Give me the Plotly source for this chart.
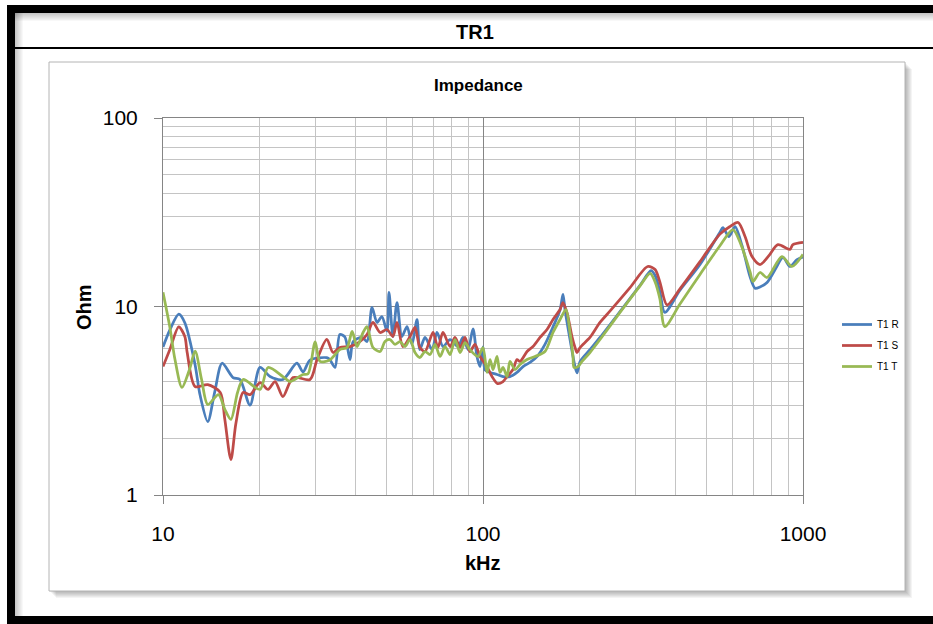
import plotly.graph_objects as go

# ---- measured impedance, phase R / S / T (frequency in kHz, impedance in Ohm) ----
freq_r = [10.0, 10.5, 11.2, 11.7, 12.6, 13.05, 13.8, 14.5, 15.3, 16.55, 17.4, 18.7, 20.1, 21.6, 23.7, 26.2,
          27.4, 28.8, 32.5, 33.2, 34.5, 35.7, 37.0, 38.4, 39.3, 41.9, 43.4, 45.0, 46.65, 48.3, 50.1, 50.85,
          52.3, 53.85, 55.8, 57.9, 60.0, 62.2, 63.5, 65.9, 69.3, 71.8, 75.0, 78.9, 83.5, 86.6, 89.8, 93.05,
          95.8, 97.9, 100, 101.45, 105.2, 110.6, 115.5, 121.4, 127.7, 133.4, 140.3, 147.5, 156.2, 165.5,
          174.1, 177.8, 180.4, 187.0, 193.9, 196.7, 201.1, 215.9, 232.1, 268, 310, 335, 345, 357, 370,
          412.6, 476.6, 550.4, 562, 587, 613, 645, 683, 708, 734, 772, 820, 866, 910, 958, 1000]
ohm_r = [6.1, 7.5, 9.1, 8.2, 4.9, 3.4, 2.45, 3.5, 5.0, 4.2, 4.1, 3.0, 4.75, 4.25, 4.1, 5.0,
         4.5, 5.2, 5.35, 5.23, 4.75, 7.1, 6.9, 5.23, 6.52, 6.85, 6.52, 9.9, 8.23, 8.85, 7.4, 11.9,
         6.93, 10.5, 6.93, 7.83, 6.29, 8.53, 5.91, 6.85, 5.91, 7.28, 6.13, 6.68, 6.13, 6.85, 5.91, 7.6,
         5.4, 4.8, 6.1, 4.6, 4.47, 4.36, 4.25, 4.25, 4.47, 4.8, 5.05, 5.43, 6.3, 7.8,
         9.6, 11.6, 9.6, 6.7, 4.8, 4.45, 5.1, 5.9, 6.85, 9.4, 13.0, 15.5, 14.6, 12.0, 9.3,
         12.2, 16.7, 24.8, 26.2, 23.5, 26.5, 21.0, 14.4, 12.5, 12.7, 13.4, 15.8, 18.2, 16.3, 17.7, 18.3]

freq_s = [10.0, 10.5, 11.2, 11.7, 11.9, 12.6, 13.8, 15.1, 15.6, 16.3, 16.9, 17.8, 18.7, 20.1, 21.3, 22.4,
          23.7, 25.5, 28.8, 30.3, 32.5, 34.0, 35.7, 38.4, 41.3, 43.4, 45.3, 47.7, 50.1, 52.3, 53.85, 56.2,
          59.15, 61.3, 63.5, 65.9, 69.8, 72.3, 75.0, 78.9, 81.75, 84.8, 87.85, 91.0, 94.4, 97.9, 102.9,
          106.7, 111.0, 115.5, 118.9, 124.1, 127.7, 130.5, 137.3, 143.3, 150.7, 158.5, 165.5, 174.1, 177.8,
          183.0, 189.7, 193.9, 196.7, 201.1, 215.9, 232.1, 250, 288, 327, 345, 357, 376, 412.6, 476.6,
          550, 590, 627, 659, 693, 734, 780, 835, 910, 930, 1000]
ohm_s = [4.8, 5.9, 7.8, 6.93, 5.7, 3.76, 3.85, 3.5, 2.52, 1.54, 2.4, 3.5, 3.41, 3.95, 3.63, 4.0,
         3.33, 4.2, 4.1, 5.23, 6.7, 5.7, 6.06, 6.13, 6.52, 7.1, 8.23, 7.28, 7.55, 6.93, 8.23, 6.13,
         6.93, 7.74, 6.06, 5.77, 7.28, 6.06, 7.28, 6.13, 6.85, 6.06, 6.85, 5.77, 6.29, 5.43, 4.8,
         4.25, 3.9, 4.0, 4.25, 4.63, 5.23, 5.11, 5.77, 6.13, 6.85, 7.55, 8.53, 9.64, 10.5,
         9.29, 6.93, 6.06, 5.7, 6.06, 6.85, 8.23, 9.5, 12.6, 16.3, 15.7, 13.5, 10.2, 12.4, 17.3,
         24.2, 26.5, 27.9, 23.5, 18.4, 16.7, 18.5, 21.3, 20.1, 21.3, 21.9]

freq_t = [10.0, 10.5, 10.9, 11.46, 12.1, 12.6, 13.2, 13.8, 14.9, 15.6, 16.3, 17.1, 17.8, 20.1, 21.3, 23.7,
          24.9, 27.4, 28.4, 29.9, 30.95, 33.2, 35.7, 37.6, 39.0, 40.4, 42.2, 43.4, 45.3, 47.7, 49.4, 51.2,
          53.1, 55.0, 57.05, 59.15, 61.3, 63.5, 65.9, 68.3, 70.8, 73.4, 76.1, 78.9, 81.75, 84.8, 87.85,
          91.0, 96.45, 100, 102.9, 105.2, 107.5, 110.6, 113.0, 115.5, 118.9, 121.4, 125.9, 130.5, 137.3,
          145.4, 156.2, 165.5, 174.1, 181.6, 187.0, 191.1, 192.5, 198.1, 203.9, 215.9, 232.1, 268, 310,
          333, 345, 357, 370, 412.6, 476.6, 550, 604, 640, 683, 698, 734, 772, 859, 924, 1000]
ohm_t = [11.9, 7.8, 5.23, 3.72, 4.63, 5.8, 4.1, 3.02, 3.41, 2.85, 2.52, 3.5, 4.1, 3.63, 4.75, 4.25,
         4.0, 4.36, 4.4, 6.5, 5.11, 5.2, 5.91, 6.06, 7.37, 6.13, 7.28, 7.83, 6.06, 5.77, 6.52, 6.68,
         6.29, 6.52, 6.13, 6.68, 5.70, 5.36, 5.77, 5.56, 6.29, 5.43, 6.13, 5.56, 6.68, 5.70, 6.44,
         5.91, 5.43, 6.06, 4.47, 5.23, 4.63, 5.43, 4.47, 4.75, 4.25, 5.11, 4.63, 4.92, 5.23,
         5.43, 5.77, 7.28, 8.53, 9.64, 7.28, 5.43, 4.75, 4.8, 5.11, 5.70, 6.68, 9.3, 12.9,
         15.0, 13.5, 11.0, 7.83, 10.3, 14.8, 21.0, 25.6, 21.3, 15.3, 13.6, 15.15, 14.25, 18.4, 16.3, 18.9]

series_names = ["T1 R", "T1 S", "T1 T"]
series_colors = ["#4A7EBB", "#BE4B48", "#98B954"]

x_ticks = [10, 100, 1000]
y_ticks = [1, 10, 100]

# ---- page geometry (pixels) ----
W, H = 933, 624
L, R, T, B = 163, 803, 118, 495


def fx(p):
    return (p - L) / (R - L)


def fy(p):
    return (B - p) / (B - T)


FONT = "Liberation Sans, Arial, sans-serif"

fig = go.Figure()
for f, z, name, color in zip([freq_r, freq_s, freq_t], [ohm_r, ohm_s, ohm_t], series_names, series_colors):
    fig.add_trace(go.Scatter(
        x=f, y=z, name=name, legendgroup=name, mode="lines",
        line=dict(color=color, width=2.75, shape="spline", smoothing=0.8),
    ))


def rect(x0, y0, x1, y1, fill, line=None):
    return dict(type="rect", xref="paper", yref="paper", layer="below",
                x0=fx(x0), x1=fx(x1), y0=fy(y1), y1=fy(y0),
                fillcolor=fill, line=line or dict(width=0))


shapes = []
# drop shadow of the chart panel
for i in range(1, 8):
    shapes.append(rect(49 + i, 62 + i, 905 + i, 591 + i, "rgba(0,0,0,0.045)"))
# chart panel
shapes.append(rect(49, 62, 905, 591, "white", dict(color="#B4B4B4", width=1)))
# inner shading of the outer frame
for i in range(8):
    a = 0.22 * (1 - i / 8)
    shapes.append(rect(15 + i, 13, 16 + i, 616, f"rgba(0,0,0,{a:.3f})"))
    shapes.append(rect(15, 13 + i, 933, 14 + i, f"rgba(0,0,0,{a:.3f})"))
# outer black frame
shapes.append(rect(7, 5, 933, 13, "black"))
shapes.append(rect(7, 5, 15, 624, "black"))
shapes.append(rect(7, 616, 933, 624, "black"))
# header separator
shapes.append(rect(15, 47, 933, 49, "black"))

annotations = [
    dict(text="TR1", x=fx(475), y=fy(32), font=dict(size=20, weight="bold")),
    dict(text="Impedance", x=fx(478), y=fy(85), font=dict(size=17, weight="bold")),
    dict(text="Ohm", x=fx(84), y=fy(307), textangle=-90, font=dict(size=20, weight="bold")),
    dict(text="kHz", x=fx(483), y=fy(563), font=dict(size=20, weight="bold")),
]
for a in annotations:
    a.update(xref="paper", yref="paper", showarrow=False, xanchor="center", yanchor="middle")
    a["font"].update(family=FONT, color="black")

axis_common = dict(
    type="log",
    showgrid=True, gridcolor="#858585", gridwidth=1,
    minor=dict(dtick="D1", showgrid=True, gridcolor="#C4C4C4", gridwidth=1.3),
    ticks="outside", ticklen=8, tickcolor="#858585",
    showline=True, linecolor="#858585", linewidth=1, mirror=True,
    zeroline=False,
    tickfont=dict(family=FONT, size=21, color="black"),
    ticklabelstandoff=12,
)

fig.update_layout(
    width=W, height=H,
    margin=dict(l=L, r=W - R, t=T, b=H - B, pad=0),
    paper_bgcolor="white", plot_bgcolor="rgba(0,0,0,0)",
    xaxis=dict(range=[1, 3], tickmode="array", tickvals=x_ticks,
               ticktext=[str(v) for v in x_ticks], **axis_common),
    yaxis=dict(range=[0, 2], tickmode="array", tickvals=y_ticks,
               ticktext=[str(v) for v in y_ticks], **axis_common),
    shapes=shapes,
    annotations=annotations,
    showlegend=True,
    legend=dict(x=fx(837), y=fy(310), xanchor="left", yanchor="top",
                bgcolor="rgba(0,0,0,0)", borderwidth=0, itemwidth=30,
                tracegroupgap=2,
                font=dict(family=FONT, size=10, color="black")),
)

fig.write_html("out.html")
